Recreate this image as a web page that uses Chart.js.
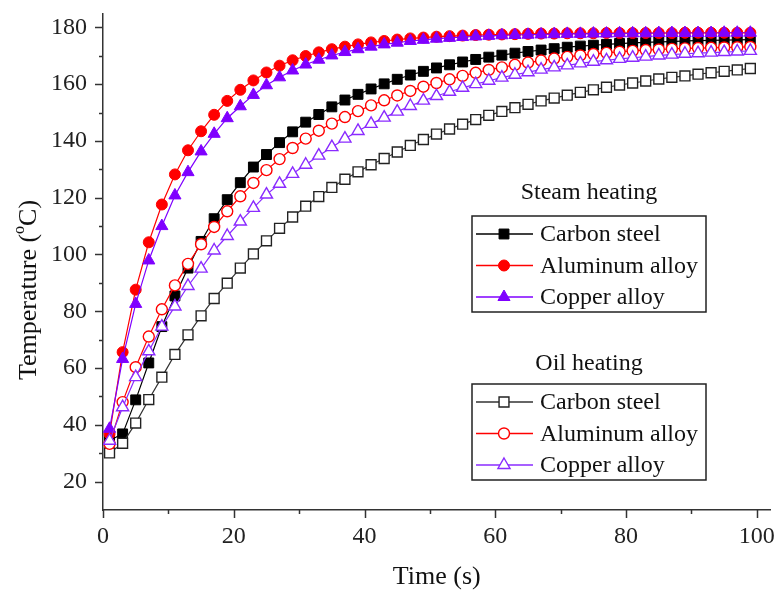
<!DOCTYPE html>
<html>
<head>
<meta charset="utf-8">
<title>Temperature vs time</title>
<script src="https://cdn.jsdelivr.net/npm/chart.js@4.4.0/dist/chart.umd.min.js"></script>
<style>
  html, body { margin: 0; padding: 0; background: #fff; }
  #wrap { width: 779px; height: 592px; }
</style>
</head>
<body>
<div id="wrap"><canvas id="tempChart" width="779" height="592"></canvas></div>
<script>
// time (s)
const time = [1, 3, 5, 7, 9, 11, 13, 15, 17, 19, 21, 23, 25, 27, 29, 31, 33, 35, 37, 39,
    41, 43, 45, 47, 49, 51, 53, 55, 57, 59, 61, 63, 65, 67, 69, 71, 73, 75, 77, 79,
    81, 83, 85, 87, 89, 91, 93, 95, 97, 99];

// steam heating
const steamCarbon = [34.5, 36.8, 48.8, 61.8, 74.6, 85.4, 95.2, 104.6, 112.6, 119.3,
    125.3, 130.8, 135.2, 139.4, 143.2, 146.6, 149.3, 152.0, 154.4, 156.4,
    158.3, 160.1, 161.7, 163.2, 164.5, 165.7, 166.8, 167.8, 168.7, 169.5,
    170.2, 170.9, 171.5, 172.0, 172.5, 173.0, 173.4, 173.7, 174.0, 174.3,
    174.5, 174.7, 174.9, 175.0, 175.2, 175.3, 175.4, 175.5, 175.6, 175.7];
const steamAluminum = [36.8, 65.6, 87.6, 104.3, 117.6, 128.2, 136.7, 143.4, 149.2, 154.1,
    158.0, 161.3, 164.1, 166.5, 168.4, 169.9, 171.2, 172.3, 173.2, 174.0,
    174.7, 175.2, 175.7, 176.1, 176.4, 176.7, 176.9, 177.1, 177.3, 177.4,
    177.5, 177.6, 177.7, 177.8, 177.8, 177.9, 177.9, 177.9, 178.0, 178.0,
    178.0, 178.0, 178.0, 178.0, 178.1, 178.1, 178.1, 178.1, 178.1, 178.1];
const steamCopper = [38.6, 63.2, 82.6, 97.9, 110.0, 120.8, 129.0, 136.3, 142.5, 148.0,
    152.2, 156.2, 159.6, 162.4, 164.8, 166.9, 168.6, 170.1, 171.3, 172.3,
    173.2, 174.0, 174.6, 175.2, 175.6, 176.0, 176.3, 176.6, 176.8, 177.0,
    177.2, 177.3, 177.4, 177.5, 177.6, 177.7, 177.7, 177.8, 177.8, 177.9,
    177.9, 177.9, 178.0, 178.0, 178.0, 178.0, 178.0, 178.1, 178.1, 178.1];

// oil heating
const oilCarbon = [30.1, 33.5, 40.6, 48.9, 56.8, 64.8, 71.7, 78.4, 84.5, 89.9,
    95.2, 100.2, 104.8, 109.2, 113.2, 117.0, 120.4, 123.6, 126.5, 129.1,
    131.6, 133.8, 136.1, 138.4, 140.5, 142.4, 144.2, 145.9, 147.5, 149.0,
    150.4, 151.7, 152.9, 154.1, 155.1, 156.1, 157.1, 158.0, 158.9, 159.7,
    160.4, 161.1, 161.8, 162.4, 162.9, 163.5, 164.0, 164.5, 165.0, 165.5];
const oilAluminum = [33.3, 48.0, 60.3, 71.1, 80.7, 89.1, 96.7, 103.6, 109.7, 115.2,
    120.5, 125.2, 129.7, 133.6, 137.5, 140.8, 143.6, 146.1, 148.4, 150.5,
    152.5, 154.3, 156.0, 157.6, 159.1, 160.4, 161.7, 162.9, 164.0, 165.0,
    165.9, 166.8, 167.6, 168.3, 169.0, 169.6, 170.1, 170.6, 171.0, 171.4,
    171.7, 172.0, 172.2, 172.4, 172.6, 172.7, 172.8, 172.9, 173.0, 173.1];
const oilCopper = [34.4, 46.2, 56.8, 65.9, 74.6, 81.7, 88.9, 95.0, 101.4, 106.5,
    111.6, 116.4, 121.1, 124.9, 128.4, 131.6, 134.8, 137.8, 140.8, 143.5,
    146.0, 148.2, 150.3, 152.3, 154.2, 155.8, 157.3, 158.7, 160.0, 161.2,
    162.3, 163.3, 164.2, 165.1, 165.9, 166.6, 167.3, 167.9, 168.4, 168.9,
    169.3, 169.7, 170.1, 170.4, 170.7, 170.9, 171.1, 171.3, 171.5, 171.7];

const materials = ['Carbon steel', 'Aluminum alloy', 'Copper alloy'];
const groups = ['Steam heating', 'Oil heating'];
const yTicks = [20, 40, 60, 80, 100, 120, 140, 160, 180];
const xTicks = [0, 20, 40, 60, 80, 100];

const serif = "'Times New Roman', 'Liberation Serif', serif";

function pts(values) {
    return time.map(function (t, i) { return { x: t, y: values[i] }; });
}

function series(label, values, color, style, radius, filled, lineColor, order) {
    return {
        label: label,
        data: pts(values),
        borderColor: lineColor || color,
        borderWidth: 1.2,
        pointStyle: style,
        pointRadius: radius,
        pointHoverRadius: radius,
        pointBackgroundColor: filled ? color : '#ffffff',
        pointBorderColor: color,
        pointBorderWidth: filled ? 1 : 1.4,
        showLine: true,
        tension: 0,
        order: order
    };
}

// small marker helper for the legend, same shapes as Chart.js
function marker(ctx, ds, x, y) {
    const r = ds.pointRadius;
    ctx.beginPath();
    if (ds.pointStyle === 'rect') {
        const s = r * Math.SQRT1_2;
        ctx.rect(x - s, y - s, 2 * s, 2 * s);
    } else if (ds.pointStyle === 'triangle') {
        ctx.moveTo(x, y - r);
        ctx.lineTo(x + r * 0.866, y + r * 0.5);
        ctx.lineTo(x - r * 0.866, y + r * 0.5);
        ctx.closePath();
    } else {
        ctx.arc(x, y, r, 0, Math.PI * 2);
    }
    ctx.fillStyle = ds.pointBackgroundColor;
    ctx.fill();
    ctx.lineWidth = ds.pointBorderWidth;
    ctx.strokeStyle = ds.pointBorderColor;
    ctx.stroke();
}

const decorations = {
    id: 'decorations',
    afterDraw: function (chart) {
        const ctx = chart.ctx;
        const area = chart.chartArea;
        const xs = chart.scales.x, ys = chart.scales.y;
        ctx.save();

        // major + minor ticks, outward
        ctx.strokeStyle = '#333';
        ctx.lineWidth = 1.5;
        for (let v = 20; v <= 180; v += 10) {
            const py = Math.round(ys.getPixelForValue(v)) + 0.5;
            const len = v % 20 === 0 ? 8 : 4;
            ctx.beginPath();
            ctx.moveTo(area.left - len, py);
            ctx.lineTo(area.left, py);
            ctx.stroke();
        }
        for (let v = 0; v <= 100; v += 10) {
            const px = Math.round(xs.getPixelForValue(v)) + 0.5;
            const len = v % 20 === 0 ? 8 : 4;
            ctx.beginPath();
            ctx.moveTo(px, area.bottom);
            ctx.lineTo(px, area.bottom + len);
            ctx.stroke();
        }

        // axis titles
        ctx.fillStyle = '#111';
        ctx.textBaseline = 'middle';
        ctx.textAlign = 'center';
        ctx.font = '26px ' + serif;
        ctx.fillText('Time (s)', (area.left + area.right) / 2, 577);

        ctx.save();
        ctx.translate(29, 290);
        ctx.rotate(-Math.PI / 2);
        ctx.textAlign = 'left';
        const big = '26px ' + serif, small = '16px ' + serif;
        ctx.font = big;
        const w1 = ctx.measureText('Temperature (').width;
        const w3 = ctx.measureText('C)').width;
        ctx.font = small;
        const w2 = ctx.measureText('o').width;
        let cx = -(w1 + w2 + w3) / 2;
        ctx.font = big;
        ctx.fillText('Temperature (', cx, 0);
        cx += w1;
        ctx.font = small;
        ctx.fillText('o', cx, -9);
        cx += w2;
        ctx.font = big;
        ctx.fillText('C)', cx, 0);
        ctx.restore();

        // two boxed legends
        const boxes = [
            { top: 216, titleY: 193, first: 0 },
            { top: 384, titleY: 364, first: 3 }
        ];
        boxes.forEach(function (b, g) {
            ctx.font = '24px ' + serif;
            ctx.textAlign = 'center';
            ctx.fillStyle = '#111';
            ctx.fillText(groups[g], 589, b.titleY);

            ctx.strokeStyle = '#222';
            ctx.lineWidth = 1.5;
            ctx.strokeRect(472, b.top, 234, 96);

            for (let k = 0; k < 3; k++) {
                const ds = chart.data.datasets[b.first + k];
                const ry = b.top + 18 + k * 31.5;
                ctx.strokeStyle = ds.borderColor;
                ctx.lineWidth = 1.5;
                ctx.beginPath();
                ctx.moveTo(476, ry);
                ctx.lineTo(533, ry);
                ctx.stroke();
                marker(ctx, ds, 504, ry);
                ctx.fillStyle = '#111';
                ctx.textAlign = 'left';
                ctx.font = '24px ' + serif;
                ctx.fillText(materials[k], 540, ry + 1);
            }
        });
        ctx.restore();
    }
};

// keep the plot box where the reference has it
function fixPadding(scale) {
    scale.paddingTop = 0;
    scale.paddingBottom = 0;
    scale.paddingLeft = 0;
    scale.paddingRight = 0;
}

const ctx = document.getElementById('tempChart');

const chart = new Chart(ctx, {
    type: 'scatter',
    data: {
        datasets: [
            series(materials[0], steamCarbon, '#000000', 'rect', 7, true, null, 6),
            series(materials[1], steamAluminum, '#ff0000', 'circle', 5.5, true, null, 5),
            series(materials[2], steamCopper, '#7f00ff', 'triangle', 7, true, null, 4),
            series(materials[0], oilCarbon, '#222222', 'rect', 7, false, '#333333', 3),
            series(materials[1], oilAluminum, '#ff0000', 'circle', 5.5, false, null, 2),
            series(materials[2], oilCopper, '#8a2bff', 'triangle', 7, false, null, 1)
        ]
    },
    options: {
        responsive: false,
        animation: false,
        layout: { padding: { top: 14, right: 6, left: 0, bottom: 0 } },
        plugins: {
            legend: { display: false },
            tooltip: { enabled: false }
        },
        scales: {
            x: {
                type: 'linear',
                min: 0,
                max: 102.1,
                afterFit: function (scale) { scale.height = 82; fixPadding(scale); },
                afterBuildTicks: function (scale) {
                    scale.ticks = xTicks.map(function (v) { return { value: v }; });
                },
                grid: { display: false, drawTicks: false },
                border: { display: true, color: '#333', width: 1.5 },
                ticks: {
                    padding: 12,
                    color: '#222',
                    font: { family: serif, size: 24 }
                }
            },
            y: {
                type: 'linear',
                min: 10,
                max: 184.7,
                afterFit: function (scale) { scale.width = 103; fixPadding(scale); },
                afterBuildTicks: function (scale) {
                    scale.ticks = yTicks.map(function (v) { return { value: v }; });
                },
                grid: { display: false, drawTicks: false },
                border: { display: true, color: '#333', width: 1.5 },
                ticks: {
                    padding: 16,
                    color: '#222',
                    font: { family: serif, size: 24 }
                }
            }
        }
    },
    plugins: [decorations]
});
</script>
</body>
</html>
